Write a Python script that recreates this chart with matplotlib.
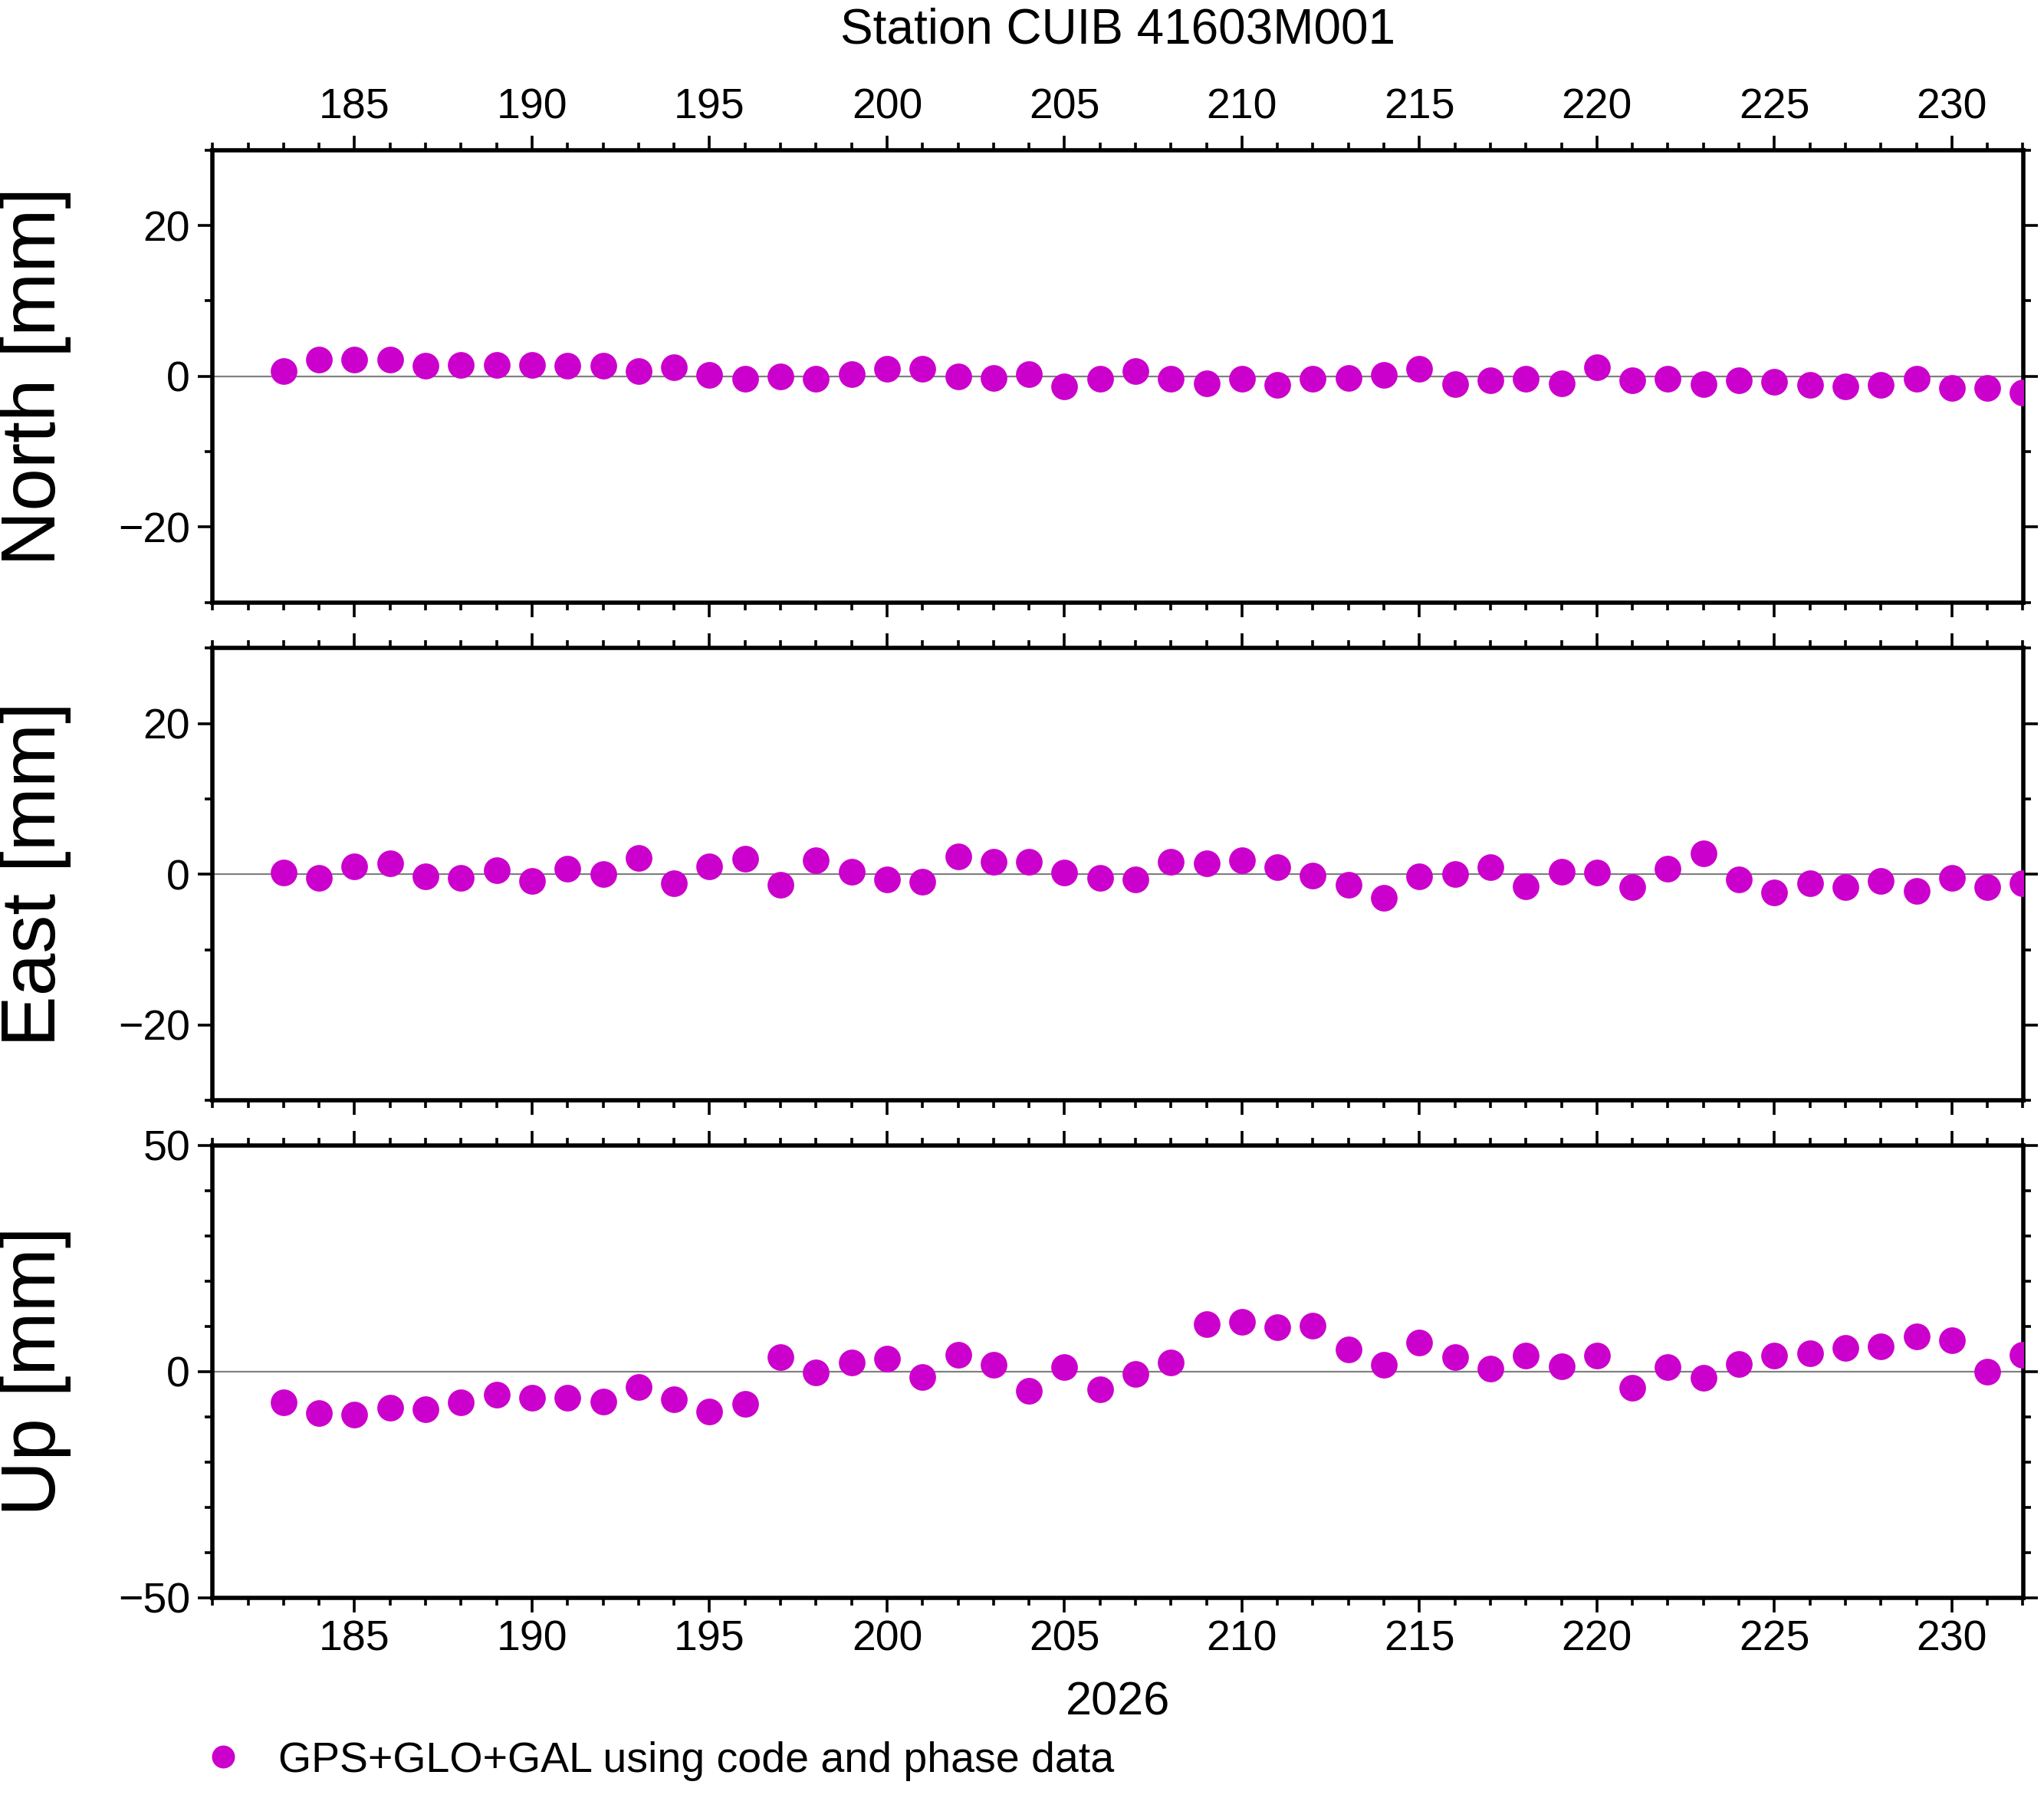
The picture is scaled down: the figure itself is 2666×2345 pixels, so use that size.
import numpy as np
import matplotlib
matplotlib.use('Agg')
import matplotlib.pyplot as plt
from matplotlib.ticker import MultipleLocator

plt.rcParams['font.family'] = ['Liberation Sans', 'DejaVu Sans']

days = np.arange(183, 233)
north = [0.7, 2.2, 2.2, 2.2, 1.4, 1.5, 1.5, 1.5, 1.4, 1.4, 0.7, 1.2, 0.2, -0.3, 0.0, -0.3, 0.3, 1.0, 1.0, 0.0,
         -0.2, 0.3, -1.4, -0.3, 0.7, -0.3, -0.9, -0.3, -1.2, -0.3, -0.2, 0.2, 1.0, -1.0, -0.5, -0.3, -0.9, 1.2,
         -0.5, -0.3, -1.0, -0.5, -0.7, -1.2, -1.4, -1.2, -0.3, -1.6, -1.6, -2.2]
east = [0.2, -0.5, 1.0, 1.4, -0.3, -0.5, 0.5, -0.9, 0.7, 0.0, 2.2, -1.2, 1.0, 2.1, -1.4, 1.9, 0.3, -0.7, -1.0, 2.4,
        1.7, 1.7, 0.2, -0.5, -0.7, 1.7, 1.4, 1.9, 0.9, -0.2, -1.4, -3.1, -0.3, 0.0, 0.9, -1.6, 0.3, 0.2, -1.7, 0.7,
        2.8, -0.7, -2.4, -1.2, -1.7, -0.9, -2.2, -0.5, -1.7, -1.2]
up = [-6.9, -9.2, -9.5, -8.1, -8.4, -6.9, -5.2, -5.8, -5.8, -6.6, -3.5, -6.1, -8.9, -7.2, 3.2, -0.3, 2.0, 2.9, -1.2,
      3.7, 1.4, -4.3, 0.9, -4.0, -0.6, 2.0, 10.4, 11.0, 9.8, 10.1, 4.9, 1.4, 6.3, 3.2, 0.6, 3.5, 1.2, 3.5, -3.7, 0.9,
      -1.4, 1.7, 3.5, 4.0, 5.2, 5.5, 7.8, 6.9, 0.0, 3.7]
labels = ['North [mm]', 'East [mm]', 'Up [mm]']
limits = [30, 30, 50]
majors = [20, 20, 50]
minors = [10, 10, 10]
color = '#CC00CC'

fig = plt.figure(figsize=(13.33, 11.725), dpi=200)
left, width, h = 0.104, 0.886, 0.2515
bottoms = [0.665, 0.388, 0.1115]
for i, vals in enumerate([north, east, up]):
    ax = fig.add_axes([left, bottoms[i], width, h])
    ax.axhline(0, color='gray', lw=0.8, zorder=1)
    ax.plot(days, vals, 'o', color=color, ms=11.5, clip_on=True, zorder=3,
            label='GPS+GLO+GAL using code and phase data')
    ax.set_xlim(181, 232.02)
    ax.set_ylim(-limits[i], limits[i])
    ax.xaxis.set_major_locator(MultipleLocator(5))
    ax.xaxis.set_minor_locator(MultipleLocator(1))
    ax.yaxis.set_major_locator(MultipleLocator(majors[i]))
    ax.yaxis.set_minor_locator(MultipleLocator(minors[i]))
    ax.tick_params(which='both', direction='out', top=True, right=True, labelsize=20, width=1.3)
    ax.tick_params(which='major', length=7)
    ax.tick_params(which='minor', length=3.5)
    ax.tick_params(axis='x', labelbottom=(i == 2), labeltop=(i == 0))
    for s in ax.spines.values():
        s.set_linewidth(2)
    ax.set_ylabel(labels[i], fontsize=36)
    ax.yaxis.set_label_coords(-0.078, 0.5)
    if i == 0:
        ax.set_title('Station CUIB 41603M001', fontsize=23, pad=50)
    if i == 2:
        ax.set_xlabel('2026', fontsize=22, labelpad=10)
        ax.legend(loc='upper left', bbox_to_anchor=(-0.027, -0.28), frameon=False, fontsize=20,
                  handletextpad=0.3, borderaxespad=0, markerscale=0.85)

fig.savefig('out.png', dpi=200)
